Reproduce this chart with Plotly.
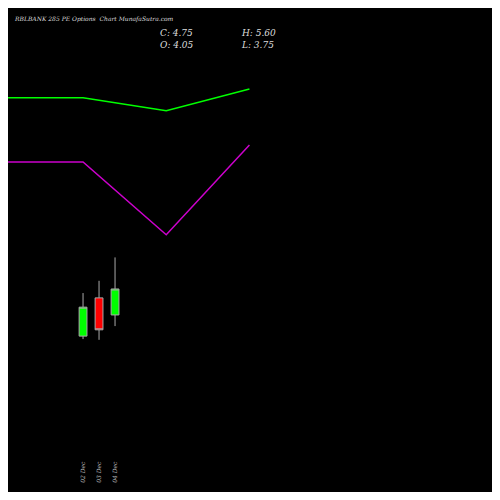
import plotly.graph_objects as go

# candle data
dates = ["02 Dec", "03 Dec", "04 Dec"]
candle_x = [0, 1, 2]
opens = [3.48, 4.51, 4.05]
highs = [4.64, 4.97, 5.60]
lows = [3.40, 3.38, 3.75]
closes = [4.26, 3.65, 4.75]

# indicator lines
line_x = [-5.2, 0, 5.2, 10.4]
green_line = [9.90, 9.90, 9.55, 10.14]
purple_line = [8.17, 8.17, 6.21, 8.63]

fig = go.Figure()
fig.add_trace(go.Scatter(x=line_x, y=green_line, mode='lines',
                         line=dict(color='#00ff00', width=1.5), hoverinfo='skip'))
fig.add_trace(go.Scatter(x=line_x, y=purple_line, mode='lines',
                         line=dict(color='#cc00cc', width=1.5), hoverinfo='skip'))
fig.add_trace(go.Candlestick(
    x=candle_x, open=opens, high=highs, low=lows, close=closes,
    increasing=dict(line=dict(color='#aaaaaa', width=1), fillcolor='#00ff00'),
    decreasing=dict(line=dict(color='#aaaaaa', width=1), fillcolor='#ff0000'),
    whiskerwidth=0,
))

for xi, d in zip(candle_x, dates):
    fig.add_annotation(x=xi, y=0.015, xref='x', yref='paper', text='<i>' + d + '</i>',
                       textangle=-90, showarrow=False, yanchor='bottom',
                       font=dict(family='DejaVu Serif', size=6, color='#bbbbbb'))

txt = dict(family='DejaVu Serif', size=9, color='#dddddd')
fig.add_annotation(x=0.008, y=0.99, xref='paper', yref='paper', xanchor='left',
                   text='<i>RBLBANK 285 PE Options  Chart MunafaSutra.com</i>',
                   showarrow=False, font=dict(family='DejaVu Serif', size=6, color='#dddddd'))
fig.add_annotation(x=0.31, y=0.962, xref='paper', yref='paper', xanchor='left', yanchor='top',
                   text='<i>C: 4.75<br>O: 4.05</i>', showarrow=False, font=txt, align='left')
fig.add_annotation(x=0.478, y=0.962, xref='paper', yref='paper', xanchor='left', yanchor='top',
                   text='<i>H: 5.60<br>L: 3.75</i>', showarrow=False, font=txt, align='left')

fig.update_layout(
    width=484, height=484, margin=dict(l=0, r=0, t=0, b=0),
    paper_bgcolor='black', plot_bgcolor='black', showlegend=False,
    xaxis=dict(range=[-4.69, 25.56], visible=False, rangeslider=dict(visible=False)),
    yaxis=dict(range=[-0.72, 12.32], visible=False),
)
fig.write_html("out.html")
